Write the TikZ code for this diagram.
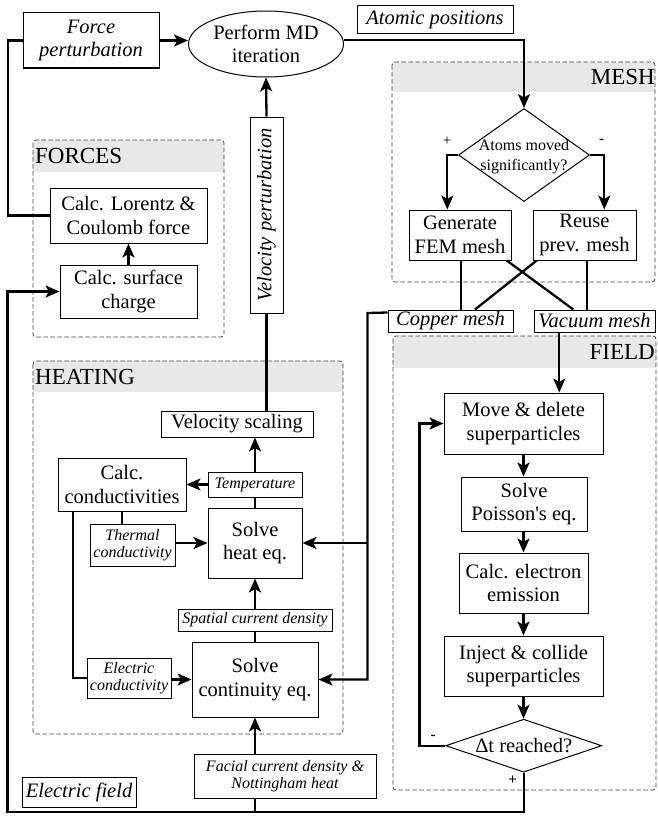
\documentclass[tikz,border=0pt]{standalone}
\usepackage{fontspec}
\setmainfont{Liberation Serif}
\usetikzlibrary{arrows.meta,shapes.geometric,calc}
\newcommand{\bigf}{\fontsize{20.5}{23.5}\selectfont}
\newcommand{\smf}{\fontsize{16}{17.5}\selectfont\itshape}
\newcommand{\diaf}{\fontsize{16}{20}\selectfont}
\newcommand{\labf}{\fontsize{23}{27}\selectfont}
\newcommand{\pmf}{\fontsize{15}{15}\selectfont}
\begin{document}
\begin{tikzpicture}[x=1pt,y=-1pt,
  box/.style={draw, line width=1pt, fill=white, align=center, inner sep=0pt, font=\bigf},
  ibox/.style={box, font=\bigf\itshape},
  sbox/.style={box, font=\smf},
  conn/.style={line width=2.3pt},
  arr/.style={conn, -{Stealth[length=14pt,width=12pt,inset=3.5pt]}},
  grp/.style={draw=black!75, line width=0.8pt, dash pattern=on 4.5pt off 2.5pt, rounded corners=3pt},
  bandc/.style={fill=black!9, rounded corners=3pt},
  grplab/.style={font=\labf, inner sep=0pt},
  dia/.style={draw, line width=1pt, diamond, inner sep=0pt, fill=white},
  plain/.style={inner sep=0pt, align=center},
]
\useasboundingbox (0,0) rectangle (657,816);

% ---------- groups ----------
\begin{scope}\clip (33,140) rectangle (224,171); \path[bandc] (33,140) rectangle (224,200); \end{scope}
\draw[grp] (33,140) rectangle (224,337);
\node[grplab, anchor=west] (forcesL) at (35,156) {FORCES};

\begin{scope}\clip (392,62) rectangle (655,91); \path[bandc] (392,62) rectangle (655,120); \end{scope}
\draw[grp] (392,62) rectangle (655,282);
\node[grplab, anchor=east] (meshL) at (655,77) {MESH};

\begin{scope}\clip (393,336) rectangle (656,367); \path[bandc] (393,336) rectangle (656,400); \end{scope}
\draw[grp] (393,336) rectangle (656,790);
\node[grplab, anchor=east] (fieldL) at (655,352) {FIELD};

\begin{scope}\clip (33,361) rectangle (343,391); \path[bandc] (33,361) rectangle (343,420); \end{scope}
\draw[grp] (33,361) rectangle (343,734);
\node[grplab, anchor=west] (heatingL) at (35,377) {HEATING};

% ---------- nodes ----------
\node[ibox, minimum width=136pt, minimum height=55pt] (force) at (91,40.5) {Force\\perturbation};
\node[draw, ellipse, line width=1pt, minimum width=155pt, minimum height=66pt, inner sep=0pt, align=center, font=\bigf] (md) at (266,44) {Perform MD\\iteration};
\node[ibox, minimum width=156pt, minimum height=28pt] (atomic) at (435,20) {Atomic positions};
\node[ibox, rotate=90, minimum width=196pt, minimum height=33pt] (velpert) at (266.5,215) {Velocity perturbation};

\node[box, minimum width=157pt, minimum height=55pt] (lorentz) at (128.5,215.5) {Calc. Lorentz \&\\Coulomb force};
\node[box, minimum width=137pt, minimum height=53pt] (surface) at (128.5,291.5) {Calc. surface\\charge};

\node[dia, minimum width=131pt, minimum height=93pt] (mdia) at (524,155) {};
\node[plain, font=\diaf] (mdiat) at (524,157) {Atoms moved\\significantly?};
\node[box, minimum width=102pt, minimum height=50pt] (gen) at (460,235) {Generate\\FEM mesh};
\node[box, minimum width=103pt, minimum height=50pt] (reuse) at (584.5,235) {Reuse\\prev. mesh};
\node[ibox, minimum width=125pt, minimum height=22pt] (copper) at (450.5,321) {Copper mesh};
\node[ibox, minimum width=121pt, minimum height=22pt] (vacuum) at (594.5,321) {Vacuum mesh};

\node[box, minimum width=159pt, minimum height=61pt] (move) at (523.5,423.5) {Move \& delete\\superparticles};
\node[box, minimum width=126pt, minimum height=54pt] (poisson) at (524,504) {Solve\\Poisson\textquotesingle s eq.};
\node[box, minimum width=129pt, minimum height=60pt] (electron) at (523.5,583) {Calc. electron\\emission};
\node[box, minimum width=159pt, minimum height=60pt] (inject) at (523.5,666) {Inject \& collide\\superparticles};
\node[dia, minimum width=156pt, minimum height=53pt] (dt) at (523.7,745.7) {};
\node[plain, font=\bigf] (dtt) at (523.7,745.7) {Δt reached?};

\node[box, minimum width=152pt, minimum height=26pt] (velscale) at (237,424) {Velocity scaling};
\node[sbox, minimum width=94pt, minimum height=25pt] (temp) at (255,484.5) {Temperature};
\node[box, minimum width=128pt, minimum height=53pt] (cond) at (122,484.5) {Calc.\\conductivities};
\node[sbox, minimum width=85pt, minimum height=42pt] (thermal) at (132.5,545) {Thermal\\conductivity};
\node[box, minimum width=94pt, minimum height=70pt] (heat) at (255,543) {Solve\\heat eq.};
\node[sbox, minimum width=154pt, minimum height=22pt] (spatial) at (255,620) {Spatial current density};
\node[sbox, minimum width=84pt, minimum height=40pt] (elec) at (129,678) {Electric\\conductivity};
\node[box, minimum width=126pt, minimum height=75pt] (cont) at (255,679.5) {Solve\\continuity eq.};
\node[sbox, minimum width=182pt, minimum height=44pt] (facial) at (285,776) {Facial current density \&\\Nottingham heat};
\node[ibox, minimum width=114pt, minimum height=30pt] (efield) at (79,792) {Electric field};

% ---------- connectors ----------
\coordinate (ltop) at (8,40.5);
\draw[conn] (lorentz.west) -| (ltop) -- (force.west);
\draw[arr] (force.east) -- (force.east -| md.west);
\draw[arr] ([yshift=4pt]md.east) -| (mdia.north);
\draw[arr] (velpert.east) -- (md.south);
\draw[conn] (velscale.north -| velpert.west) -- (velpert.west);
\draw[arr] (surface.north) -- (lorentz.south);

\coordinate (gpl) at (447.3,155);
\coordinate (gpr) at (604.3,155);
\draw[arr] (mdia.west) -- (gpl) -- (gpl |- gen.north);
\draw[arr] (mdia.east) -- (gpr) -- (gpr |- reuse.north);
\node[plain, font=\pmf] (plus1) at (447,141.7) {+};
\node[plain, font=\pmf\bfseries] (minus1) at (601.7,141.7) {-};

\draw[conn] ([xshift=1pt]gen.south) -- ([xshift=1pt]gen.south |- copper.north);
\draw[conn] ([xshift=46.7pt]gen.south) -- ([xshift=-21.2pt]vacuum.north);
\draw[conn] ([xshift=-47.8pt]reuse.south) -- ([xshift=24.5pt]copper.north);
\draw[conn] ([xshift=2.2pt]reuse.south) -- ([xshift=2.2pt]reuse.south |- vacuum.north);

\coordinate (cpc) at (367.5,313);
\draw[arr] ([yshift=-3pt]copper.north west) -- (cpc) |- (cont.east);
\draw[arr] (cpc |- heat.east) -- (heat.east);

\draw[arr] ([xshift=-35.2pt]vacuum.south) -- ([xshift=-35.2pt]vacuum.south |- move.north);
\draw[arr] (move.south) -- (move.south |- poisson.north);
\draw[arr] (poisson.south -| move.south) -- (move.south |- electron.north);
\draw[arr] (electron.south -| move.south) -- (move.south |- inject.north);
\draw[arr] (inject.south -| move.south) -- (move.south |- dt.north);

\coordinate (lp) at (419.5,745.7);
\draw[arr] (dt.west) -- (lp) |- (move.west);
\node[plain, font=\pmf\bfseries] (minus2) at (433,737) {-};
\coordinate (bl) at (7.5,812);
\draw[arr] (dt.south) |- (bl) |- (surface.west);
\node[plain, font=\pmf\bfseries] (plus2) at (512.7,780.7) {+};

\draw[arr] (facial.north -| cont.south) -- (cont.south);
\draw[conn] (facial.south -| cont.south) -- (cont.south |- bl);
\draw[conn] (cont.north) -- (spatial.south);
\draw[arr] (spatial.north) -- (heat.south);
\draw[conn] (heat.north) -- (temp.south);
\draw[arr] (temp.north) -- (temp.north |- velscale.south);
\draw[arr] (temp.west) -- (cond.east);
\draw[conn] (cond.south) -- (cond.south |- thermal.north);
\draw[arr] (thermal.east |- heat.west) -- (heat.west);
\draw[conn] ([xshift=-48.7pt]cond.south) |- (elec.west);
\draw[arr] (elec.east |- cont.west) -- (cont.west);
\end{tikzpicture}
\end{document}
